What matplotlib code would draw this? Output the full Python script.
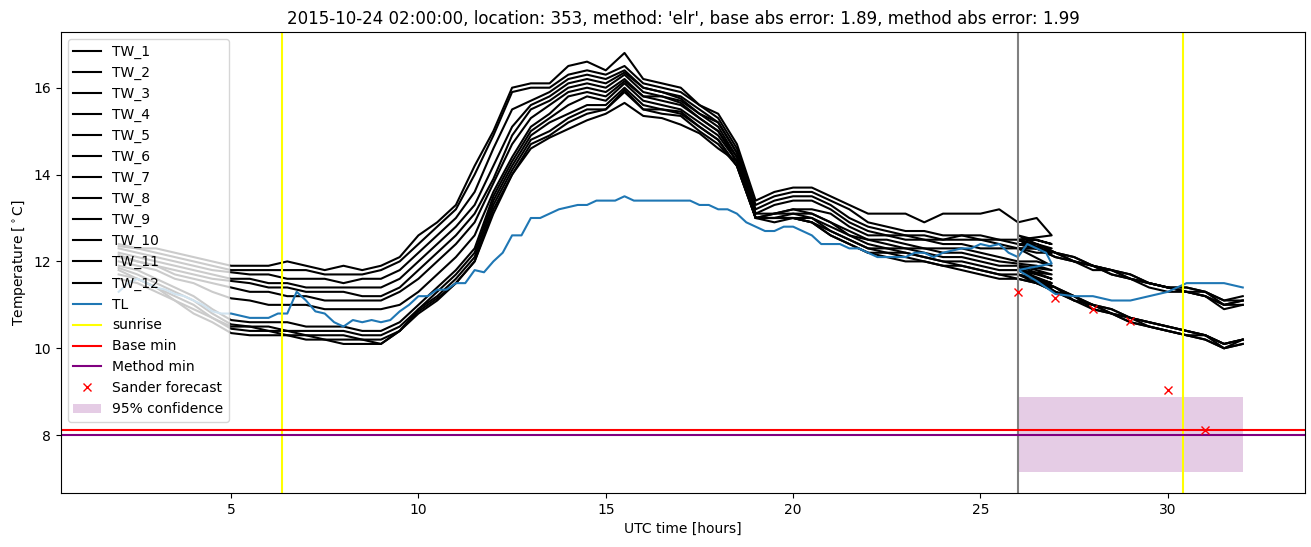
import numpy as np
import matplotlib
matplotlib.use('Agg')
import matplotlib.pyplot as plt

# time axes (hours since 2015-10-24 00:00 UTC)
hours_1 = np.append(np.arange(2, 26.6, 0.5), 26.9)
hours_2 = np.arange(26, 32.5, 0.5)
tl_hours_1 = np.append(np.arange(2, 26.8, 0.25), 26.9)

# TW stations, first part (observed period)
tw_1 = [12.4, 12.3, 12.3, 12.2, 12.1, 12.0, 11.9, 11.9, 11.9, 12.0, 11.9, 11.8, 11.9, 11.8, 11.9, 12.1, 12.6,
        12.9, 13.3, 14.2, 15.0, 16.0, 16.1, 16.1, 16.5, 16.6, 16.4, 16.8, 16.2, 16.1, 16.0, 15.6, 15.4, 14.7,
        13.4, 13.6, 13.7, 13.7, 13.5, 13.3, 13.1, 13.1, 13.1, 12.9, 13.1, 13.1, 13.1, 13.2, 12.9, 13.0, 12.6]
tw_2 = [12.35, 12.3, 12.2, 12.1, 12.0, 11.9, 11.8, 11.8, 11.8, 11.8, 11.8, 11.7, 11.7, 11.7, 11.8, 12.0, 12.4,
        12.8, 13.2, 14.0, 14.9, 15.9, 16.0, 16.0, 16.3, 16.4, 16.3, 16.5, 16.1, 16.0, 15.9, 15.6, 15.3, 14.6,
        13.3, 13.5, 13.6, 13.6, 13.4, 13.2, 12.9, 12.8, 12.7, 12.7, 12.6, 12.6, 12.6, 12.5, 12.5, 12.5, 12.4]
tw_3 = [12.3, 12.2, 12.1, 12.0, 11.9, 11.8, 11.75, 11.7, 11.7, 11.6, 11.6, 11.6, 11.5, 11.6, 11.6, 11.8, 12.2,
        12.6, 13.0, 13.6, 14.6, 15.5, 15.7, 15.9, 16.2, 16.3, 16.2, 16.4, 16.0, 15.9, 15.8, 15.5, 15.2, 14.5,
        13.2, 13.4, 13.5, 13.5, 13.3, 13.0, 12.8, 12.7, 12.6, 12.6, 12.5, 12.6, 12.5, 12.5, 12.4, 12.4, 12.3]
tw_4 = [12.2, 12.1, 12.0, 11.9, 11.8, 11.7, 11.6, 11.6, 11.5, 11.5, 11.4, 11.4, 11.4, 11.4, 11.4, 11.6, 12.0,
        12.4, 12.8, 13.3, 14.2, 15.1, 15.6, 15.8, 16.1, 16.2, 16.1, 16.35, 16.0, 15.9, 15.75, 15.4, 15.2, 14.5,
        13.1, 13.3, 13.4, 13.4, 13.2, 12.9, 12.7, 12.6, 12.6, 12.5, 12.5, 12.5, 12.5, 12.4, 12.3, 12.3, 12.2]
tw_5 = [12.15, 12.0, 11.9, 11.8, 11.7, 11.6, 11.55, 11.5, 11.4, 11.4, 11.3, 11.3, 11.3, 11.2, 11.2, 11.4, 11.8,
        12.2, 12.6, 13.1, 13.9, 14.9, 15.5, 15.7, 16.0, 16.1, 16.0, 16.3, 15.9, 15.8, 15.7, 15.4, 15.1, 14.4,
        13.1, 13.1, 13.2, 13.2, 13.1, 12.8, 12.6, 12.6, 12.5, 12.5, 12.4, 12.4, 12.3, 12.3, 12.3, 12.2, 12.2]
tw_6 = [12.1, 12.0, 11.9, 11.7, 11.6, 11.5, 11.4, 11.3, 11.3, 11.2, 11.2, 11.1, 11.1, 11.1, 11.1, 11.3, 11.6,
        12.0, 12.4, 12.9, 13.8, 14.7, 15.3, 15.6, 15.9, 16.0, 15.9, 16.2, 15.8, 15.8, 15.65, 15.3, 15.0, 14.4,
        13.0, 13.1, 13.2, 13.1, 12.9, 12.7, 12.5, 12.5, 12.4, 12.3, 12.3, 12.3, 12.2, 12.1, 12.0, 12.0, 11.9]
tw_7 = [12.0, 11.9, 11.8, 11.6, 11.5, 11.3, 11.15, 11.1, 11.0, 11.0, 11.0, 10.9, 10.9, 10.9, 10.9, 11.0, 11.3,
        11.7, 12.1, 12.6, 13.6, 14.4, 15.1, 15.4, 15.8, 15.9, 15.8, 16.15, 15.8, 15.7, 15.6, 15.3, 15.0, 14.3,
        13.0, 13.1, 13.1, 13.1, 12.9, 12.6, 12.5, 12.4, 12.3, 12.3, 12.2, 12.2, 12.1, 12.0, 11.95, 11.9, 11.8]
tw_8 = [11.9, 11.8, 11.6, 11.4, 11.2, 10.9, 10.65, 10.6, 10.6, 10.6, 10.5, 10.5, 10.5, 10.4, 10.4, 10.6, 11.0,
        11.4, 11.8, 12.3, 13.5, 14.3, 15.0, 15.3, 15.6, 15.8, 15.7, 16.1, 15.7, 15.6, 15.5, 15.2, 14.9, 14.3,
        13.0, 13.0, 13.1, 13.0, 12.8, 12.6, 12.4, 12.3, 12.3, 12.2, 12.1, 12.1, 12.0, 11.9, 11.9, 11.8, 11.7]
tw_9 = [11.85, 11.7, 11.5, 11.3, 11.1, 10.8, 10.55, 10.5, 10.5, 10.4, 10.4, 10.4, 10.4, 10.3, 10.3, 10.5, 10.9,
        11.3, 11.7, 12.2, 13.4, 14.2, 14.9, 15.2, 15.4, 15.6, 15.6, 16.0, 15.6, 15.5, 15.45, 15.1, 14.8, 14.2,
        13.0, 13.0, 13.0, 13.0, 12.7, 12.5, 12.3, 12.3, 12.2, 12.1, 12.0, 12.0, 11.9, 11.8, 11.8, 11.7, 11.6]
tw_10 = [11.8, 11.6, 11.4, 11.2, 11.0, 10.7, 10.5, 10.5, 10.4, 10.4, 10.3, 10.3, 10.3, 10.2, 10.2, 10.4, 10.9,
         11.2, 11.6, 12.1, 13.3, 14.1, 14.8, 15.0, 15.3, 15.5, 15.5, 15.95, 15.5, 15.5, 15.4, 15.1, 14.8, 14.2,
         13.0, 13.0, 13.0, 12.9, 12.7, 12.5, 12.3, 12.2, 12.2, 12.1, 12.0, 11.9, 11.8, 11.7, 11.7, 11.6, 11.5]
tw_11 = [11.7, 11.6, 11.4, 11.1, 10.9, 10.7, 10.45, 10.4, 10.4, 10.3, 10.3, 10.2, 10.2, 10.2, 10.1, 10.4, 10.8,
         11.1, 11.5, 12.0, 13.2, 14.0, 14.7, 14.9, 15.2, 15.4, 15.5, 15.9, 15.5, 15.4, 15.35, 15.0, 14.7, 14.2,
         13.0, 13.0, 13.0, 12.9, 12.6, 12.4, 12.2, 12.2, 12.1, 12.0, 11.9, 11.9, 11.8, 11.7, 11.6, 11.5, 11.5]
tw_12 = [11.6, 11.5, 11.3, 11.1, 10.8, 10.6, 10.35, 10.3, 10.3, 10.3, 10.2, 10.2, 10.1, 10.1, 10.1, 10.4, 10.85,
         11.15, 11.5, 12.0, 13.1, 14.0, 14.6, 14.85, 15.05, 15.25, 15.4, 15.65, 15.35, 15.3, 15.15, 14.95, 14.6,
         14.3, 13.0, 12.9, 13.0, 12.9, 12.6, 12.4, 12.2, 12.1, 12.0, 12.0, 11.9, 11.8, 11.7, 11.6, 11.6, 11.5, 11.4]

# TW stations, second part (forecast period)
tw_1_b = [12.5, 12.4, 12.2, 12.1, 11.9, 11.8, 11.7, 11.5, 11.4, 11.4, 11.3, 11.1, 11.2]
tw_2_b = [12.6, 12.4, 12.2, 12.0, 11.9, 11.8, 11.6, 11.5, 11.4, 11.3, 11.3, 11.0, 11.1]
tw_3_b = [12.4, 12.3, 12.1, 12.0, 11.9, 11.7, 11.6, 11.5, 11.4, 11.3, 11.2, 10.9, 11.0]
tw_4_b = [12.5, 12.3, 12.2, 12.1, 11.9, 11.8, 11.7, 11.5, 11.4, 11.4, 11.3, 11.1, 11.1]
tw_5_b = [12.4, 12.4, 12.2, 12.0, 11.8, 11.8, 11.6, 11.5, 11.4, 11.3, 11.2, 11.0, 11.0]
tw_6_b = [12.3, 12.3, 12.1, 12.0, 11.9, 11.7, 11.6, 11.4, 11.3, 11.3, 11.2, 11.0, 11.1]
tw_7_b = [11.9, 11.6, 11.4, 11.2, 11.0, 10.9, 10.7, 10.6, 10.5, 10.4, 10.3, 10.1, 10.2]
tw_8_b = [11.8, 11.6, 11.3, 11.1, 11.0, 10.8, 10.7, 10.5, 10.4, 10.3, 10.3, 10.0, 10.1]
tw_9_b = [11.9, 11.5, 11.3, 11.2, 10.9, 10.8, 10.6, 10.5, 10.4, 10.3, 10.2, 10.0, 10.1]
tw_10_b = [11.8, 11.6, 11.4, 11.1, 11.0, 10.9, 10.7, 10.6, 10.5, 10.4, 10.3, 10.1, 10.2]
tw_11_b = [11.7, 11.5, 11.3, 11.1, 10.9, 10.8, 10.6, 10.5, 10.4, 10.3, 10.2, 10.0, 10.2]
tw_12_b = [11.8, 11.6, 11.4, 11.2, 11.0, 10.8, 10.7, 10.6, 10.5, 10.4, 10.3, 10.1, 10.2]

# TL station
tl_1 = [11.3, 11.5, 11.6, 11.5, 11.4, 11.35, 11.25, 11.2, 11.1, 11.0, 10.85, 10.8,
        10.8, 10.75, 10.7, 10.7, 10.7, 10.8, 10.8, 11.3, 11.1, 10.85, 10.8, 10.6,
        10.5, 10.65, 10.6, 10.65, 10.6, 10.65, 10.85, 11.0, 11.2, 11.2, 11.35, 11.35,
        11.5, 11.5, 11.8, 11.75, 12.0, 12.2, 12.6, 12.6, 13.0, 13.0, 13.1, 13.2,
        13.25, 13.3, 13.3, 13.4, 13.4, 13.4, 13.5, 13.4, 13.4, 13.4, 13.4, 13.4,
        13.4, 13.4, 13.3, 13.3, 13.2, 13.2, 13.1, 12.9, 12.8, 12.7, 12.7, 12.8,
        12.8, 12.7, 12.6, 12.4, 12.4, 12.4, 12.3, 12.3, 12.2, 12.1, 12.1, 12.1,
        12.1, 12.2, 12.2, 12.1, 12.2, 12.25, 12.3, 12.3, 12.4, 12.35, 12.4, 12.2,
        12.1, 12.4, 12.3, 12.2, 11.95]
tl_2 = [11.8, 11.55, 11.25, 11.2, 11.2, 11.1, 11.1, 11.2, 11.3, 11.5, 11.5, 11.5, 11.4]

# other annotations
sunrise_hours = [6.35, 30.4]
forecast_start = 26
base_min = 8.11
method_min = 8.0
sander_hours = [26, 27, 28, 29, 30, 31]
sander_temps = [11.3, 11.15, 10.9, 10.62, 9.03, 8.12]
conf_hours = [26, 32]
conf_low = 7.15
conf_high = 8.87

tw_first = [tw_1, tw_2, tw_3, tw_4, tw_5, tw_6, tw_7, tw_8, tw_9, tw_10, tw_11, tw_12]
tw_second = [tw_1_b, tw_2_b, tw_3_b, tw_4_b, tw_5_b, tw_6_b, tw_7_b, tw_8_b, tw_9_b, tw_10_b, tw_11_b, tw_12_b]

fig = plt.figure(figsize=(13.11, 5.47), dpi=100)
ax = fig.add_subplot(111)
fig.subplots_adjust(left=0.0465, right=0.9954, top=0.9415, bottom=0.0987)

for i in range(12):
    x = np.concatenate([hours_1, hours_2])
    y = np.concatenate([tw_first[i], tw_second[i]])
    ax.plot(x, y, color='black', label=f'TW_{i + 1}')

ax.plot(np.concatenate([tl_hours_1, hours_2]), np.concatenate([tl_1, tl_2]), label='TL')

ax.axvline(sunrise_hours[0], color='yellow', label='sunrise')
ax.axvline(sunrise_hours[1], color='yellow')
ax.axvline(forecast_start, color='gray')
ax.axhline(base_min, color='red', label='Base min')
ax.axhline(method_min, color='purple', label='Method min')
ax.plot(sander_hours, sander_temps, 'x', color='red', label='Sander forecast')
ax.fill_between(conf_hours, conf_low, conf_high, color='purple', alpha=0.2, linewidth=0,
                label='95% confidence')

ax.set_xlim(0.46, 33.66)
ax.set_xlabel('UTC time [hours]')
ax.set_ylabel(r'Temperature [$^\circ$C]')
ax.set_title("2015-10-24 02:00:00, location: 353, method: 'elr', base abs error: 1.89, method abs error: 1.99")
ax.legend(loc='upper left')

fig.savefig('out.png', dpi=100)
